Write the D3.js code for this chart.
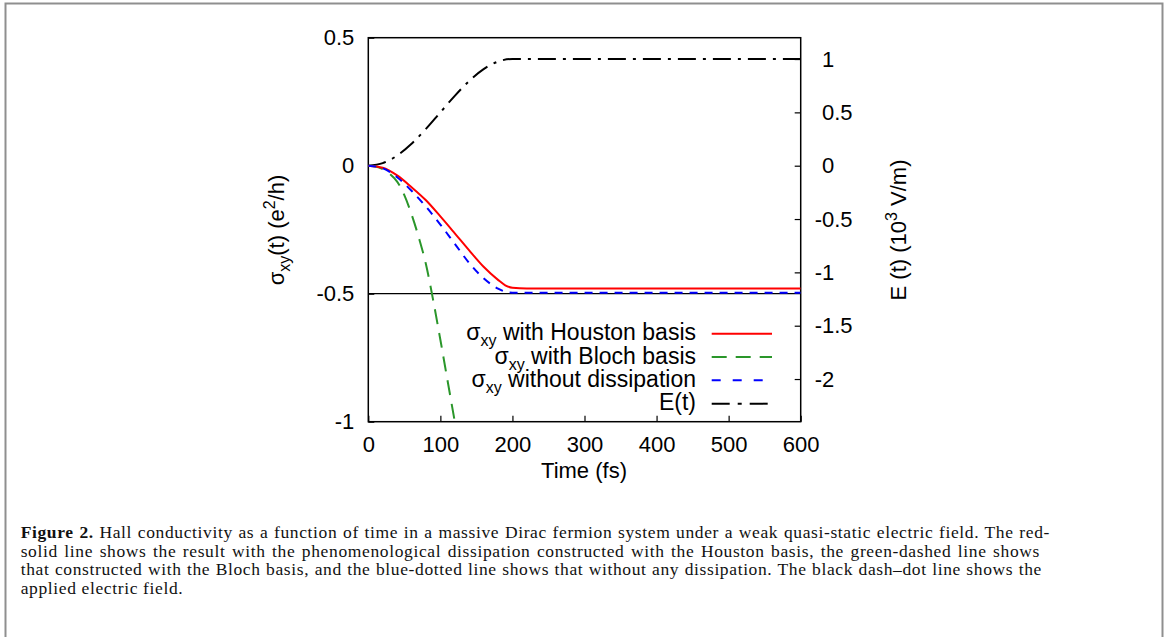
<!DOCTYPE html>
<html lang="en">
  <head>
    <meta charset="UTF-8" />
    <title>Figure 2</title>
    <style>
      body { margin: 0; background: #fff; }
      svg { display: block; }
      .tick text { font-family: "Liberation Sans", Arial, sans-serif; font-size: 22px; fill: #000; }
      .lbl { font-family: "Liberation Sans", Arial, sans-serif; font-size: 22px; fill: #000; }
      .cap { font-family: "Liberation Serif", "Times New Roman", serif; font-size: 17.5px; fill: #111; }
    </style>
  </head>

  <body>
    <div id="chart"></div>

  <script src="https://d3js.org/d3.v7.min.js"></script>
  <script>

// ---- data ----
var xTicks = [0, 100, 200, 300, 400, 500, 600];
var yTicks = [-1, -0.5, 0, 0.5];
var y2Ticks = [-2, -1.5, -1, -0.5, 0, 0.5, 1];

var tHouston = [0, 20, 40, 60, 80, 100, 120, 140, 160, 180, 190, 200, 220, 300, 400, 500, 600];
var sHouston = [0, -0.008, -0.038, -0.084, -0.135, -0.198, -0.264, -0.331, -0.395, -0.446, -0.467, -0.477, -0.480, -0.480, -0.480, -0.480, -0.480];

var tNoDiss = [0, 20, 40, 60, 80, 100, 120, 140, 160, 180, 190, 200, 220, 300, 400, 500, 600];
var sNoDiss = [0, -0.010, -0.045, -0.098, -0.160, -0.230, -0.305, -0.380, -0.440, -0.480, -0.492, -0.496, -0.496, -0.496, -0.496, -0.496, -0.496];

var tBloch = [0, 10, 20, 30, 40, 50, 60, 70, 80, 90, 100, 110, 120, 125];
var sBloch = [0, -0.003, -0.013, -0.032, -0.062, -0.115, -0.190, -0.280, -0.385, -0.525, -0.680, -0.840, -1.000, -1.080];

var tField = [0, 20, 40, 60, 80, 100, 120, 140, 160, 180, 200, 300, 400, 500, 600];
var eField = [0, 0.024, 0.095, 0.206, 0.345, 0.500, 0.655, 0.794, 0.905, 0.976, 1, 1, 1, 1, 1];

var legendNames = ["with Houston basis", "with Bloch basis", "without dissipation", "E(t)"];

var captionLines = [
  "Hall conductivity as a function of time in a massive Dirac fermion system under a weak quasi-static electric field. The red-",
  "solid line shows the result with the phenomenological dissipation constructed with the Houston basis, the green-dashed line shows",
  "that constructed with the Bloch basis, and the blue-dotted line shows that without any dissipation. The black dash\u2013dot line shows the",
  "applied electric field."
];

var w = 1168;
var h = 637;

var pLeft = 368.3, pRight = 800.7, pTop = 37.7, pBottom = 421.7;

var svg = d3.select("#chart").append("svg")
            .attr("width", w)
            .attr("height", h);

// page frame
svg.append("path")
   .attr("d", "M5.5," + h + "V3.5H1162.5V" + h)
   .attr("fill", "none")
   .attr("stroke", "#8f8f8f")
   .attr("stroke-width", 2);

var x = d3.scaleLinear().domain([0, 600]).range([pLeft, pRight]);
var y = d3.scaleLinear().domain([-1, 0.5]).range([pBottom, pTop]);
var y2 = d3.scaleLinear().domain([-2.4, 1.2]).range([pBottom, pTop]);

svg.append("clipPath").attr("id", "plotclip")
   .append("rect")
   .attr("x", pLeft).attr("y", pTop)
   .attr("width", pRight - pLeft).attr("height", pBottom - pTop);

// horizontal reference line at -0.5
svg.append("line")
   .attr("x1", x(0)).attr("x2", x(600))
   .attr("y1", y(-0.5)).attr("y2", y(-0.5))
   .attr("stroke", "#000")
   .attr("stroke-width", 1.2);

// axes
var fmt = function(d) { return String(d); };

var xAxis = svg.append("g")
   .attr("transform", "translate(0," + pBottom + ")")
   .call(d3.axisBottom(x).tickValues(xTicks).tickFormat(fmt).tickSizeInner(-6).tickSizeOuter(0).tickPadding(15));

var yAxis = svg.append("g")
   .attr("transform", "translate(" + pLeft + ",0)")
   .call(d3.axisLeft(y).tickValues(yTicks).tickFormat(fmt).tickSizeInner(-6).tickSizeOuter(0).tickPadding(14));

var y2Axis = svg.append("g")
   .attr("transform", "translate(" + pRight + ",0)")
   .call(d3.axisRight(y2).tickValues(y2Ticks).tickFormat(fmt).tickSizeInner(-6).tickSizeOuter(0).tickPadding(14));

y2Axis.selectAll(".tick text")
   .attr("x", function(d) { return d < 0 ? 14 : 21.3; });

[xAxis, yAxis, y2Axis].forEach(function(a) {
  a.select(".domain").remove();
  a.selectAll(".tick line").attr("stroke", "#000").attr("stroke-width", 1.2);
});

// frame of plot
svg.append("rect")
   .attr("x", pLeft).attr("y", pTop)
   .attr("width", pRight - pLeft).attr("height", pBottom - pTop)
   .attr("fill", "none")
   .attr("stroke", "#000")
   .attr("stroke-width", 1.5);

// curves
function pts(ts, vs) {
  return ts.map(function(t, i) { return [t, vs[i]]; });
}

var line1 = d3.line()
   .x(function(d) { return x(d[0]); })
   .y(function(d) { return y(d[1]); })
   .curve(d3.curveMonotoneX);

var line2 = d3.line()
   .x(function(d) { return x(d[0]); })
   .y(function(d) { return y2(d[1]); })
   .curve(d3.curveMonotoneX);

var curves = svg.append("g").attr("clip-path", "url(#plotclip)");

curves.append("path")
   .attr("d", line2(pts(tField, eField)))
   .attr("fill", "none").attr("stroke", "#000").attr("stroke-width", 2)
   .attr("stroke-dasharray", "18,7,3,7");

curves.append("path")
   .attr("d", line1(pts(tBloch, sBloch)))
   .attr("fill", "none").attr("stroke", "#2a962a").attr("stroke-width", 2)
   .attr("stroke-dasharray", "15,9");

curves.append("path")
   .attr("d", line1(pts(tHouston, sHouston)))
   .attr("fill", "none").attr("stroke", "#ff0000").attr("stroke-width", 2);

curves.append("path")
   .attr("d", line1(pts(tNoDiss, sNoDiss)))
   .attr("fill", "none").attr("stroke", "#0000ff").attr("stroke-width", 2)
   .attr("stroke-dasharray", "8,7");

// legend
var legColors = ["#ff0000", "#2a962a", "#0000ff", "#000"];
var legDash = [null, "15,9", "9,12", "18,8,4,8"];
var legY = [333.7, 357.0, 380.3, 403.7];

legendNames.forEach(function(name, i) {
  var t = svg.append("text")
     .attr("class", "lbl")
     .style("font-size", "23px")
     .attr("x", 696)
     .attr("y", legY[i] + 6.5)
     .attr("text-anchor", "end");
  if (i < 3) {
    t.append("tspan").text("\u03c3");
    t.append("tspan").attr("font-size", 16).attr("dy", 6).text("xy");
    t.append("tspan").attr("dy", -6).text(" " + name);
  } else {
    t.text(name);
  }
  svg.append("line")
     .attr("x1", 711.7).attr("x2", 772)
     .attr("y1", legY[i]).attr("y2", legY[i])
     .attr("stroke", legColors[i])
     .attr("stroke-width", 2)
     .attr("stroke-dasharray", legDash[i]);
});

// axis titles
svg.append("text")
   .attr("class", "lbl")
   .attr("text-anchor", "middle")
   .attr("transform", "translate(584,478)")
   .text("Time (fs)");

var yl = svg.append("text")
   .attr("class", "lbl")
   .attr("text-anchor", "middle")
   .attr("transform", "translate(284,230) rotate(-90)");
yl.append("tspan").text("\u03c3");
yl.append("tspan").attr("font-size", 16).attr("dy", 6).text("xy");
yl.append("tspan").attr("dy", -6).text("(t) (e");
yl.append("tspan").attr("font-size", 16).attr("dy", -9).text("2");
yl.append("tspan").attr("dy", 9).text("/h)");

var y2l = svg.append("text")
   .attr("class", "lbl")
   .attr("text-anchor", "middle")
   .attr("transform", "translate(906,230) rotate(-90)");
y2l.append("tspan").text("E (t) (10");
y2l.append("tspan").attr("font-size", 16).attr("dy", -9).text("3");
y2l.append("tspan").attr("dy", 9).text(" V/m)");

// caption, lines 1-3 justified
var capEnd = [1050, 1040, 1042, null];
var capX = 20.7;
var caps = captionLines.map(function(s, i) {
  var c = svg.append("text")
     .attr("class", "cap")
     .attr("x", capX)
     .attr("y", 537.7 + i * 18.8);
  if (i == 0) {
    c.append("tspan").attr("font-weight", "bold").text("Figure 2.");
    c.append("tspan").text(" " + s);
  } else {
    c.text(s);
  }
  return c;
});

// letter spacing from the first line, word spacing per line
var full0 = "Figure 2. " + captionLines[0];
var gap0 = capEnd[0] - capX - caps[0].node().getComputedTextLength();
var ls = Math.max(0, gap0 * 0.85 / full0.length);
caps.forEach(function(c, i) {
  c.style("letter-spacing", ls + "px");
  if (capEnd[i]) {
    var s = (i == 0 ? full0 : captionLines[i]);
    var spaces = s.split(" ").length - 1;
    var extra = (capEnd[i] - capX - c.node().getComputedTextLength()) / spaces;
    c.style("word-spacing", extra + "px");
  }
});

</script>

  </body>
</html>
